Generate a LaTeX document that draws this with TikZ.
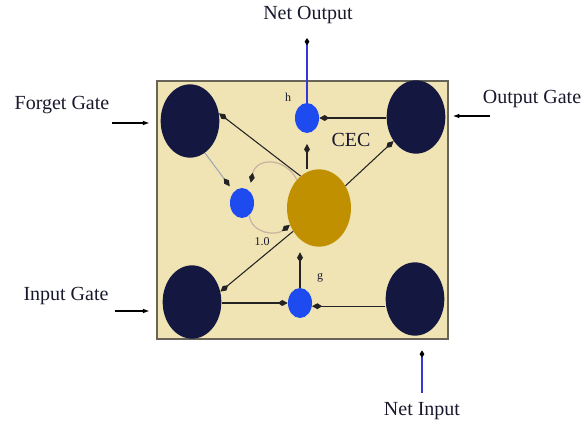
\documentclass[tikz,border=0pt]{standalone}
\usepackage{fontspec}
\setmainfont{Liberation Serif}
\usetikzlibrary{arrows.meta,shapes.geometric}
\definecolor{boxfill}{RGB}{240,228,180}
\definecolor{boxline}{RGB}{105,100,88}
\definecolor{navy}{RGB}{20,24,64}
\definecolor{gold}{RGB}{192,144,0}
\definecolor{cellblue}{RGB}{30,75,240}
\definecolor{arcc}{RGB}{200,178,160}
\definecolor{wire}{RGB}{35,35,35}
\definecolor{netblue}{RGB}{55,55,215}
\definecolor{txt}{RGB}{25,25,45}
\definecolor{faintc}{RGB}{160,166,180}
\begin{document}
\begin{tikzpicture}[x=0.75pt,y=-0.75pt,
  cellbox/.style={rectangle, draw=boxline, line width=1.1pt, fill=boxfill, inner sep=0pt,
    minimum width=218.25pt, minimum height=193.5pt},
  gatenode/.style={ellipse, fill=navy, inner sep=0pt, minimum width=44pt, minimum height=55pt},
  cecnode/.style={ellipse, fill=gold, inner sep=0pt, minimum width=48pt, minimum height=58pt},
  unit/.style={ellipse, fill=cellblue, inner sep=0pt, minimum width=18pt, minimum height=22.5pt},
  kite/.tip={Kite[length=7.5pt,width=4.4pt,inset=3.4pt]},
  conn/.style={draw=wire, line width=0.8pt, -kite},
  faint/.style={draw=faintc, line width=0.8pt, -{Kite[length=7.5pt,width=4.4pt,inset=3.4pt,color=wire]}},
  loop/.style={draw=arcc, line width=0.9pt, -{Kite[length=7.5pt,width=4.4pt,inset=3.4pt,color=wire]}},
  ext/.style={draw=black, line width=0.8pt, -{Latex[length=5pt,width=3.5pt]}},
  netline/.style={draw=netblue, line width=0.9pt, -{Kite[length=5.5pt,width=3.6pt,inset=2.7pt,color=black]}},
  biglabel/.style={text=txt, font=\fontsize{15}{18}\selectfont, inner sep=0pt},
  smalllabel/.style={text=txt, font=\fontsize{9}{11}\selectfont, inner sep=0pt}]
\useasboundingbox (0,0) rectangle (583,428);

% cell box
\node[cellbox] (cell) at (302.5,210) {};

% gates
\node[gatenode] (tl) at (190,121) {};
\node[gatenode] (tr) at (416,117) {};
\node[gatenode] (bl) at (192,302) {};
\node[gatenode] (br) at (415,299) {};

% CEC and units
\node[cecnode] (cec) at (319,208) {};
\node[unit] (h) at (307,118) {};
\node[unit] (lb) at (242,203) {};
\node[unit] (g) at (300,303) {};

% labels inside
\node[smalllabel] (hl) at (288,97) {h};
\node[biglabel] (cecl) at (351,140) {CEC};
\node[smalllabel] (onel) at (262,242) {1.0};
\node[smalllabel] (gl) at (320,278) {g};

% external labels
\node[biglabel] (fg) at (62,105) {Forget Gate};
\node[biglabel] (og) at (532,99) {Output Gate};
\node[biglabel] (ig) at (66,296) {Input Gate};
\node[biglabel] (no) at (308,15) {Net Output};
\node[biglabel] (ni) at (422,411) {Net Input};

% external arrows
\coordinate (fgt) at (112,123);
\coordinate (ogt) at (490,116);
\coordinate (igt) at (115,311);
\coordinate (nit) at (422,393);
\coordinate (notip) at (307,38);
\draw[ext, shorten >=5pt] (fgt) -- (fgt -| cell.west);
\draw[ext, shorten >=3pt] (ogt) -- (ogt -| cell.east);
\draw[ext, shorten >=5pt] (igt) -- (igt -| cell.west);
\draw[netline, shorten >=8pt] (nit) -- (nit |- cell.south);
\draw[netline] (h.north) -- (notip);

% internal connectors
\draw[conn] (cec.120) -- (tl.15);
\draw[conn] (cec.40) -- (tr.227);
\draw[conn, shorten >=8pt] (h |- cec.north) -- (h.south);
\draw[conn] (tr.west |- h) -- (h.east);
\draw[faint, shorten >=5pt] (tl.295) -- (lb.126);
\draw[loop, shorten >=6pt] (cec.128) .. controls (285,157) and (256,157) .. (lb.60);
\draw[loop] (lb.300) .. controls (252,234) and (276,236) .. (cec.210);
\draw[conn] (cec.222) -- (bl.20);
\draw[conn, shorten >=4pt] (g.north) -- (g.north |- cec.south);
\draw[conn] (bl.east |- g) -- (g.west);
\draw[conn] (br.west |- g.-15) -- (g.-15);
\end{tikzpicture}
\end{document}
